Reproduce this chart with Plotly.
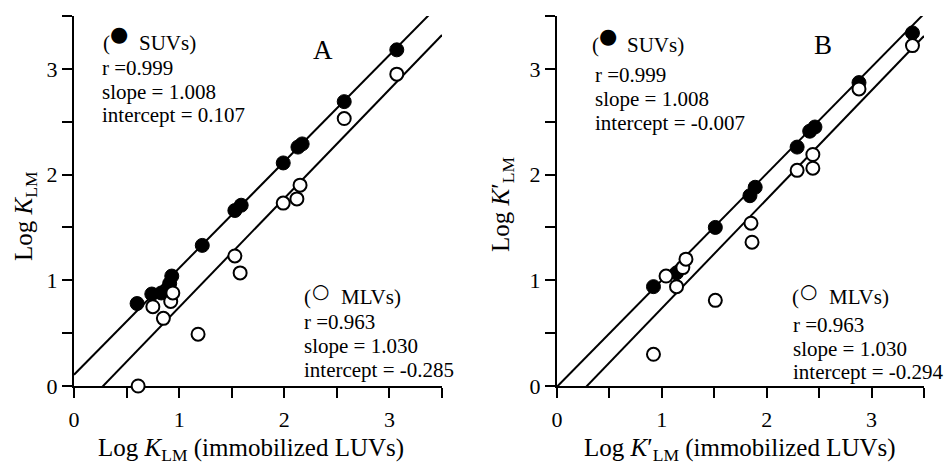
import plotly.graph_objects as go

W, H = 949, 471

# ---- data ----
a_suv_x = [0.60, 0.74, 0.83, 0.91, 0.93, 1.22, 1.53, 1.59, 1.99, 2.13, 2.17, 2.57, 3.07]
a_suv_y = [0.78, 0.87, 0.88, 0.97, 1.04, 1.33, 1.66, 1.71, 2.11, 2.26, 2.29, 2.69, 3.18]
a_mlv_x = [0.61, 0.75, 0.85, 0.92, 0.94, 1.18, 1.53, 1.58, 1.99, 2.12, 2.15, 2.57, 3.07]
a_mlv_y = [0.00, 0.75, 0.64, 0.80, 0.88, 0.49, 1.23, 1.07, 1.73, 1.77, 1.90, 2.53, 2.95]

b_suv_x = [0.92, 1.14, 1.51, 1.84, 1.89, 2.29, 2.41, 2.46, 2.88, 3.39]
b_suv_y = [0.94, 1.07, 1.50, 1.80, 1.88, 2.26, 2.41, 2.45, 2.87, 3.34]
b_mlv_x = [0.92, 1.04, 1.14, 1.20, 1.23, 1.51, 1.85, 1.86, 2.29, 2.44, 2.44, 2.88, 3.39]
b_mlv_y = [0.30, 1.04, 0.94, 1.12, 1.20, 0.81, 1.54, 1.36, 2.04, 2.06, 2.19, 2.81, 3.22]

# regression lines: (slope, intercept)
a_suv_fit = (1.008, 0.107)
a_mlv_fit = (1.030, -0.285)
b_suv_fit = (1.008, -0.007)
b_mlv_fit = (1.030, -0.294)

tick_vals = [0, 1, 2, 3]
tick_text = ["0", "1", "2", "3"]
line_x = [0.0, 3.5]

FONT = "Liberation Serif, Times New Roman, serif"

fig = go.Figure()


def add_panel(xa, ya, suv_x, suv_y, mlv_x, mlv_y, suv_fit, mlv_fit):
    for s, b in (suv_fit, mlv_fit):
        fig.add_trace(go.Scatter(
            x=line_x, y=[s * v + b for v in line_x], mode="lines",
            line=dict(color="black", width=2), xaxis=xa, yaxis=ya,
            showlegend=False, hoverinfo="skip"))
    fig.add_trace(go.Scatter(
        x=suv_x, y=suv_y, mode="markers", xaxis=xa, yaxis=ya, cliponaxis=False,
        marker=dict(size=14, color="black", line=dict(color="black", width=1)),
        showlegend=False, name="SUVs"))
    fig.add_trace(go.Scatter(
        x=mlv_x, y=mlv_y, mode="markers", xaxis=xa, yaxis=ya, cliponaxis=False,
        marker=dict(size=13, color="white", line=dict(color="black", width=2)),
        showlegend=False, name="MLVs"))


add_panel("x", "y", a_suv_x, a_suv_y, a_mlv_x, a_mlv_y, a_suv_fit, a_mlv_fit)
add_panel("x2", "y2", b_suv_x, b_suv_y, b_mlv_x, b_mlv_y, b_suv_fit, b_mlv_fit)

axis_common = dict(
    range=[0, 3.5], tickvals=tick_vals, ticktext=tick_text,
    showgrid=False, zeroline=False, showline=True, linecolor="black",
    linewidth=2, ticks="outside", ticklen=10, tickwidth=2, tickcolor="black",
    minor=dict(dtick=0.5, tick0=0, ticks="outside", ticklen=10, tickwidth=2,
               tickcolor="black", showgrid=False),
    tickfont=dict(family=FONT, size=22, color="black"), layer="below traces",
    automargin=False,
)

ydom = [1 - 386 / H, 1 - 16 / H]
fig.update_layout(
    width=W, height=H, margin=dict(l=0, r=0, t=0, b=0, autoexpand=False),
    paper_bgcolor="white", plot_bgcolor="white",
    xaxis=dict(domain=[74 / W, 442 / W], anchor="y", ticklabelstandoff=3, **axis_common),
    yaxis=dict(domain=ydom, anchor="x", **axis_common),
    xaxis2=dict(domain=[557 / W, 924 / W], anchor="y2", ticklabelstandoff=3, **axis_common),
    yaxis2=dict(domain=ydom, anchor="x2", **axis_common),
)


def ann(text, px, py, size=21, xanchor="left", angle=0, family=FONT):
    fig.add_annotation(
        text=text, x=px / W, y=1 - py / H, xref="paper", yref="paper",
        xanchor=xanchor, yanchor="middle", showarrow=False, textangle=angle,
        font=dict(family=family, size=size, color="black"))


SYM = "DejaVu Sans"
# panel A labels
ann("A", 323, 50, size=27, xanchor="center")
ann("(", 101, 43)
ann("●", 119, 34, size=21, xanchor="center", family=SYM)
ann("SUVs)", 137, 43)
ann("r =0.999", 100, 68)
ann("slope = 1.008", 100, 92)
ann("intercept = 0.107", 100, 115)
ann("(", 302, 297)
ann("<b>○</b>", 320, 291, size=20, xanchor="center", family=SYM)
ann("MLVs)", 339, 297)
ann("r =0.963", 302, 322)
ann("slope = 1.030", 302, 346)
ann("intercept = -0.285", 302, 370)
ann("Log <i>K</i><sub>LM</sub> (immobilized LUVs)", 251, 449, size=25, xanchor="center")
ann("Log <i>K</i><sub>LM</sub>", 25, 216, size=25, xanchor="center", angle=-90)

# panel B labels
ann("B", 823, 45, size=27, xanchor="center")
ann("(", 590, 45)
ann("●", 608, 36, size=21, xanchor="center", family=SYM)
ann("SUVs)", 625, 45)
ann("r =0.999", 593, 75)
ann("slope = 1.008", 593, 99)
ann("intercept = -0.007", 593, 123)
ann("(", 790, 297)
ann("<b>○</b>", 808, 291, size=20, xanchor="center", family=SYM)
ann("MLVs)", 827, 297)
ann("r =0.963", 791, 325)
ann("slope = 1.030", 791, 349)
ann("intercept = -0.294", 791, 372)
ann("Log <i>K</i>′<sub>LM</sub> (immobilized LUVs)", 740, 449, size=25, xanchor="center")
ann("Log <i>K</i>′<sub>LM</sub>", 502, 205, size=25, xanchor="center", angle=-90)

fig.write_html(
    "out.html",
    config={"displayModeBar": False},
    post_script="document.body.style.margin='0px';document.body.style.overflow='hidden';",
)
